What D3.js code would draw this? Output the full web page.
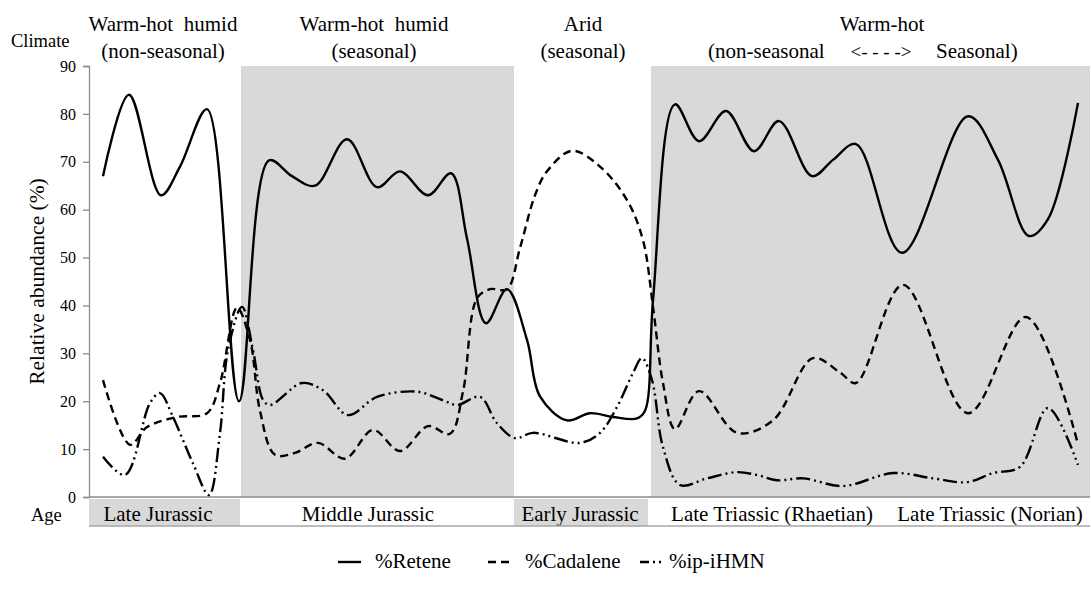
<!DOCTYPE html>
<html><head><meta charset="utf-8">
<script src="https://cdn.jsdelivr.net/npm/d3@7"></script>
<style>body{margin:0;background:#fff;} svg{display:block;} text{font-family:"Liberation Serif","Times New Roman",serif;fill:#000;}</style>
</head><body>
<svg id="c" width="1091" height="589"></svg>
<script>
// ---- data (stratigraphic position 0-1000 across the section) ----
const retenePos = [14,40,72,91,118,150,180,203,226,258,288,311,339,362,378,397,418,438,451,478,501,524,548,556,564,586,610,637,665,690,723,744,767,813,879,909,940,959,989];
const reteneVal = [67,84,63,69,81,20,70.3,67,65,74.7,64.7,68,63,67.6,54,36.3,43.4,32.8,21,16,17.5,16.7,16.4,18,41,82,74.3,80.6,72.2,78.5,67,70.4,73.7,51,79.5,70.4,54.5,58,82.3];

const cadalenePos = [14,41,58,88,118,131,148,161,171,186,206,229,256,284,311,339,361,374,388,401,418,431,446,458,483,511,538,554,564,574,586,610,648,684,724,751,767,814,879,937,989];
const cadaleneVal = [24.4,10.9,14.6,16.7,17.5,23.8,39.5,32.8,18,8.8,9.2,11.3,8,14,9.6,14.8,13.2,22,41.5,43.4,43.4,52,63,68,72.3,69,62,53.6,39.7,23.8,14.2,22.1,13.4,16,29,26,23.8,44.3,17.5,37.6,11];

const iphmnPos = [14,36,61,71,84,104,120,131,139,153,164,174,181,213,234,259,288,328,354,368,391,408,426,444,491,511,528,544,553,563,574,591,618,648,668,688,714,754,804,844,878,904,931,959,989];
const iphmnVal = [8.4,4.6,19.6,21.7,16.7,7,0.4,13.4,30.7,39.7,30.7,20.3,19.2,23.8,22.3,17.1,20.9,22,20.2,19.2,20.9,15.4,12.3,13.4,11.3,13.4,18.8,25.9,29,24.4,10.4,2.5,3.9,5.2,4.6,3.5,3.9,2.3,5,3.9,3.1,5,6.3,18.6,6.7];

const yTicks = [0,10,20,30,40,50,60,70,80,90];

// climate shaded intervals (positions)
const climateShadeStart = [152, 562];
const climateShadeEnd = [425, 1001];
const climateLine1 = ["Warm-hot  humid","Warm-hot  humid","Arid","Warm-hot"];
const climateLine2 = ["(non-seasonal)","(seasonal)","(seasonal)",""];
const climateCenter = [74, 285, 494, 793];

const ageNames = ["Late Jurassic","Middle Jurassic","Early Jurassic","Late Triassic (Rhaetian)","Late Triassic (Norian)"];
const ageStart = [0,151,425,559,799];
const ageEnd = [151,425,559,799,1001];
const ageCenter = [69,279,491,683,901];
const ageShaded = [true,false,true,false,false];

const seriesNames = ["%Retene","%Cadalene","%ip-iHMN"];

// ---- drawing ----
const svg = d3.select("#c");
const W = 1091, H = 589;
const m = {left: 89, right: 1090, top: 66, bottom: 497};
const x = d3.scaleLinear().domain([0,1001]).range([m.left, m.right]);
const y = d3.scaleLinear().domain([0,90]).range([m.bottom, m.top]);

svg.append("rect").attr("width",W).attr("height",H).attr("fill","#fff");

// shaded climate bands
svg.selectAll("rect.band").data(climateShadeStart).enter().append("rect")
  .attr("class","band")
  .attr("x",(d)=>x(d)).attr("y",y(90))
  .attr("width",(d,i)=>x(climateShadeEnd[i])-x(d))
  .attr("height",y(0)-y(90))
  .attr("fill","#d9d9d9");

// y axis
const yAxis = d3.axisLeft(y).tickValues(yTicks).tickSize(6).tickPadding(7);
const ya = svg.append("g").attr("transform",`translate(${m.left},0)`).call(yAxis);
ya.select(".domain").attr("stroke","#8c8c8c").attr("stroke-width",1.3);
ya.selectAll(".tick line").attr("stroke","#8c8c8c").attr("stroke-width",1.3);
ya.selectAll(".tick text").style("font-family","Liberation Serif").style("font-size","16px").attr("fill","#000");

// baseline
svg.append("line").attr("x1",m.left).attr("x2",m.right).attr("y1",y(0)).attr("y2",y(0))
  .attr("stroke","#8c8c8c").attr("stroke-width",1.5);

// series
const line = d3.line().x(d=>x(d[0])).y(d=>y(d[1])).curve(d3.curveCatmullRom.alpha(0.5));
const series = [
  {pos: retenePos, val: reteneVal, dash: null},
  {pos: cadalenePos, val: cadaleneVal, dash: "8,5"},
  {pos: iphmnPos, val: iphmnVal, dash: "14,4,2,4,2,4"}
];
series.forEach(s=>{
  const pts = s.pos.map((p,i)=>[p, s.val[i]]);
  const path = svg.append("path").datum(pts).attr("d",line)
    .attr("fill","none").attr("stroke","#000").attr("stroke-width",2.4)
    .attr("stroke-linejoin","round");
  if (s.dash) path.attr("stroke-dasharray", s.dash);
});

// climate header
svg.append("text").attr("x",11).attr("y",47).style("font-size","18.5px").text("Climate");
climateLine1.forEach((t,i)=>{
  svg.append("text").attr("x",x(climateCenter[i])).attr("y",31).attr("text-anchor","middle")
    .style("font-size","21px").style("white-space","pre").attr("xml:space","preserve").text(t);
  if (climateLine2[i]) svg.append("text").attr("x",x(climateCenter[i])).attr("y",58).attr("text-anchor","middle")
    .style("font-size","21px").text(climateLine2[i]);
});
svg.append("text").attr("x",708).attr("y",58).style("font-size","21px").text("(non-seasonal");
svg.append("text").attr("x",881).attr("y",58).attr("text-anchor","middle").style("font-size","19px").style("white-space","pre").attr("xml:space","preserve").text("<- - - ->");
svg.append("text").attr("x",936).attr("y",58).style("font-size","21px").text("Seasonal)");

// y axis title
svg.append("text").attr("transform",`translate(44,${(m.top+m.bottom)/2}) rotate(-90)`)
  .attr("text-anchor","middle").style("font-size","21.5px").text("Relative abundance (%)");

// age row
const ageTop = 499, ageBot = 526;
svg.append("text").attr("x",31).attr("y",521).style("font-size","18.5px").text("Age");
ageNames.forEach((n,i)=>{
  if (ageShaded[i]) svg.append("rect").attr("x",x(ageStart[i])).attr("y",ageTop)
    .attr("width",x(ageEnd[i])-x(ageStart[i])).attr("height",ageBot-ageTop).attr("fill","#d9d9d9");
  svg.append("text").attr("x",x(ageCenter[i])).attr("y",521).attr("text-anchor","middle")
    .style("font-size","21px").text(n);
});
svg.append("line").attr("x1",m.left).attr("x2",m.right).attr("y1",ageBot).attr("y2",ageBot)
  .attr("stroke","#a6a6a6").attr("stroke-width",1.5);

// legend
const legX = [338, 488, 640];
const legY = 568;
const legDash = [null, "8,5", "9,4,2,4,2,4"];
seriesNames.forEach((n,i)=>{
  const l = svg.append("line").attr("x1",legX[i]).attr("x2",legX[i]+23).attr("y1",legY-6).attr("y2",legY-6)
    .attr("stroke","#000").attr("stroke-width",2.4);
  if (legDash[i]) l.attr("stroke-dasharray",legDash[i]);
  svg.append("text").attr("x",legX[i]+(i===2?29:37)).attr("y",legY).style("font-size","21px").text(n);
});
</script>
</body></html>
